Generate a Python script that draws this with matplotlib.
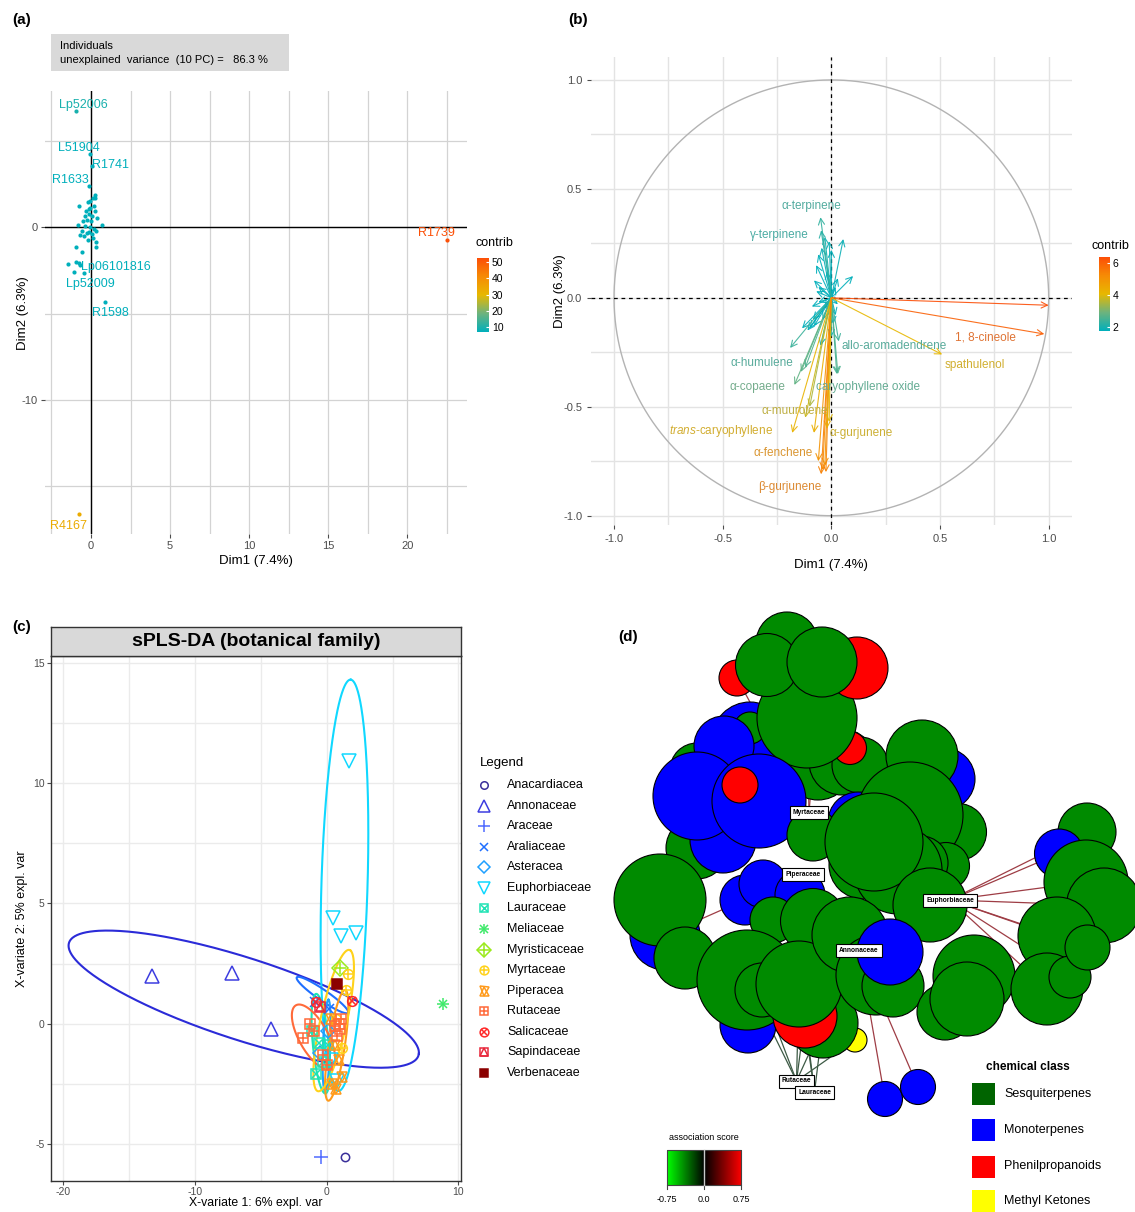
import numpy as np
import matplotlib
matplotlib.use("Agg")
import matplotlib.pyplot as plt
from matplotlib.colors import LinearSegmentedColormap, Normalize, to_rgb
from matplotlib.cm import ScalarMappable
from matplotlib.patches import Circle, Rectangle

plt.rcParams.update({
    "font.family": ["Liberation Sans", "DejaVu Sans"],
    "mathtext.fontset": "custom",
    "mathtext.it": "Liberation Sans:italic",
    "mathtext.rm": "Liberation Sans",
    "axes.unicode_minus": False,
})

W, H = 1135, 1212

# ---------------- (a) PCA individuals ----------------
clus_x = [0.23, 0.13, -0.04, -0.21, -0.78, 0.17, -0.08, 0.27, -0.29, -0.15,
          0.06, -0.51, -0.25, 0.00, 0.69, -0.84, -0.36, -0.08, 0.21, -0.57,
          -0.15, -0.67, -0.46, 0.34, 0.06, -0.21, 0.34, 0.34, -0.93, -0.57,
          -1.45, -0.93, -0.67, -1.09, -0.36, 0.27, -0.15, 0.38, -0.25, 0.13]
clus_y = [1.89, 1.68, 1.54, 1.47, 1.22, 1.20, 1.12, 0.95, 0.91, 0.74,
          0.63, 0.38, 0.42, 0.36, 0.15, 0.11, 0.06, 0.00, -0.11, -0.21,
          -0.27, -0.48, -0.53, -0.21, -0.42, -0.74, -0.84, -1.12, -1.12, -1.41,
          -2.11, -2.00, -2.17, -2.59, 0.63, 1.68, 1.05, 0.53, -0.32, -0.63]
ind_names = ["Lp52006", "L51904", "R1741", "R1633", "Lp06101816", "Lp52009",
             "R1598", "R1739", "R4167"]
ind_x = [-0.93, -0.08, 0.06, -0.15, -0.74, -0.42, 0.86, 22.48, -0.78]
ind_y = [6.74, 4.25, 3.54, 2.38, -2.10, -2.63, -4.36, -0.74, -16.59]
ind_contrib = [9.5, 6.0, 6.0, 5.0, 5.0, 5.0, 5.5, 52.0, 33.0]
ind_lab_x = [-0.46, -0.78, 1.22, -1.31, 1.54, -0.04, 1.22, 21.85, -1.41]
ind_lab_y = [7.05, 4.57, 3.58, 2.74, -2.32, -3.31, -4.99, -0.32, -17.31]

# ---------------- (b) variable loadings ----------------
var_names = ["1, 8-cineole", "", "spathulenol", "allo-aromadendrene", "α-terpinene",
             "γ-terpinene", "α-humulene", "α-copaene", "caryophyllene oxide",
             "α-muurolene", r"$\it{trans}$-caryophyllene", "α-gurjunene", "α-fenchene",
             "β-gurjunene"]
var_x = [0.98, 1.00, 0.51, 0.034, -0.05, -0.047, -0.19, -0.17, 0.03, -0.12, -0.18,
         -0.01, -0.06, -0.047]
var_y = [-0.166, -0.034, -0.26, -0.20, 0.37, 0.31, -0.23, -0.40, -0.35, -0.55, -0.62,
         -0.57, -0.75, -0.81]
var_contrib = [6.0, 6.35, 4.1, 2.4, 2.3, 2.2, 2.4, 2.8, 2.6, 3.8, 4.2, 4.0, 5.0, 5.4]
var_lab_x = [0.71, None, 0.66, 0.29, -0.09, -0.24, -0.32, -0.34, 0.17, -0.17, -0.51,
             0.135, -0.22, -0.19]
var_lab_y = [-0.18, None, -0.31, -0.22, 0.42, 0.29, -0.30, -0.41, -0.41, -0.52, -0.61,
             -0.62, -0.71, -0.87]
minor_x = [-0.04, -0.03, -0.025, -0.02, -0.08, -0.10, -0.14, -0.12, 0.055, 0.10, -0.01,
           -0.06, -0.045, -0.03, -0.07, -0.08, -0.09, -0.085, -0.135, -0.11, -0.08,
           -0.05, -0.04, 0.0, 0.025, 0.02, 0.03, -0.02, -0.06, 0.02, -0.03, 0.03, -0.10,
           0.0, -0.06, -0.07, 0.01]
minor_y = [-0.79, -0.77, -0.80, -0.60, -0.62, -0.50, -0.34, -0.32, 0.27, 0.10, 0.26,
           0.20, 0.23, 0.28, 0.15, 0.08, -0.04, -0.10, -0.14, -0.15, -0.13,
           -0.22, -0.10, -0.18, -0.35, 0.05, 0.09, 0.12, 0.05, -0.08, -0.05, -0.03, -0.14,
           0.22, -0.02, 0.03, -0.12]
minor_contrib = [5.2, 5.0, 5.3, 4.3, 4.3, 3.5, 2.7, 2.6, 1.9, 1.8, 1.9,
                 1.8, 1.9, 2.0, 1.7, 1.6, 1.6, 1.6, 1.8, 1.8, 1.7,
                 1.9, 1.5, 1.6, 2.5, 1.5, 1.5, 1.6, 1.5, 1.5, 1.5, 1.5, 1.7,
                 1.8, 1.5, 1.5, 1.6]

# ---------------- (c) sPLS-DA ----------------
families = ["Anacardiacea", "Annonaceae", "Araceae", "Araliaceae", "Asteracea",
            "Euphorbiaceae", "Lauraceae", "Meliaceae", "Myristicaceae", "Myrtaceae",
            "Piperacea", "Rutaceae", "Salicaceae", "Sapindaceae", "Verbenaceae"]
fam_colors = ["#3A2F9A", "#3D3DE0", "#4F6BFF", "#1F6FFF", "#1FA0FF", "#10D8FF",
              "#1EE3B4", "#3EEA6A", "#9AEA1A", "#FFD21A", "#FF9A1A", "#FF6A3A",
              "#FF2A2A", "#E8283C", "#8B0000"]
fam_pch = list(range(1, 16))
fam_x = {
    "Anacardiacea": [1.4], "Annonaceae": [-13.3, -7.2, -4.2], "Araceae": [-0.4],
    "Araliaceae": [-0.9, 0.2], "Asteracea": [-0.5, 0.1],
    "Euphorbiaceae": [1.7, 0.5, 1.1, 2.2, 0.8, 0.3],
    "Lauraceae": [-0.6, -1.1, -0.3, -0.8, 0.1], "Meliaceae": [8.8],
    "Myristicaceae": [1.0], "Myrtaceae": [1.6, 1.5, 0.7, 1.2],
    "Piperacea": [0.4, 0.9, 0.6, 1.2, 0.3, 0.7],
    "Rutaceae": [-1.3, -1.0, -1.8, 0.9, 1.0, 1.1, 0.6, -0.3, 0.0, 0.8],
    "Salicaceae": [1.9, -0.8], "Sapindaceae": [-0.5], "Verbenaceae": [0.8],
}
fam_y = {
    "Anacardiacea": [-5.55], "Annonaceae": [2.0, 2.1, -0.2], "Araceae": [-5.55],
    "Araliaceae": [0.9, 0.6], "Asteracea": [-1.2, -0.3],
    "Euphorbiaceae": [10.9, 4.4, 3.65, 3.75, -2.4, -1.5],
    "Lauraceae": [-0.8, -0.3, -1.6, -2.1, -0.9], "Meliaceae": [0.8],
    "Myristicaceae": [2.3], "Myrtaceae": [2.07, 1.4, 0.2, -1.0],
    "Piperacea": [-2.5, -1.5, -0.9, -2.2, 0.2, -2.7],
    "Rutaceae": [0.0, -0.3, -0.6, 0.0, -0.2, 0.2, -0.1, -1.3, -1.7, -0.5],
    "Salicaceae": [0.95, 0.9], "Sapindaceae": [0.7], "Verbenaceae": [1.64],
}
ell_family = ["Annonaceae", "Euphorbiaceae", "Araliaceae", "Asteracea", "Lauraceae",
              "Rutaceae", "Piperacea", "Myrtaceae"]
ell_cx = [-6.3, 1.35, -0.32, 0.0, -0.45, -1.0, 0.76, 0.53]
ell_cy = [1.02, 5.75, 1.19, -0.9, -0.83, -0.55, -0.9, 0.13]
ell_a = [13.49, 8.56, 2.09, 1.9, 2.1, 1.95, 2.39, 3.18]
ell_b = [1.76, 1.75, 0.25, 0.28, 0.6, 0.85, 0.6, 0.95]
ell_angle = [-9.65, 86.8, -20.2, 86.0, -79.7, -36.6, 73.7, 66.4]

# ---------------- (d) association network ----------------
# node layout (pixel units of the network canvas), radius and chemical class
node_x = [787, 750, 750, 818, 842, 860, 850, 807, 737, 857, 767, 822,
          697, 697, 723, 724, 697, 759, 740,
          858, 813, 863, 944, 922, 958, 910, 946, 921, 898, 874, 930,
          665, 660, 685, 745, 763, 800, 773, 813, 748, 747, 762, 855, 823, 805, 799,
          850, 876, 893, 890,
          945, 974, 967,
          1087, 1059, 1086, 1104, 1057, 1047, 1070, 1087.5, 885, 918]
node_y = [643, 740, 728, 765, 762, 765, 748, 718, 678, 668, 665, 662,
          770, 848, 840, 746, 796, 801, 785,
          822, 835, 865, 779, 756, 832, 815, 866, 863, 870, 842, 905,
          935, 900, 958, 900, 884, 895, 920, 921, 1025, 980, 990, 1040, 1023, 1016, 984,
          935, 975, 986, 952,
          1012, 976, 999,
          832, 853.5, 882, 905.5, 936, 989, 977, 947.5, 1099, 1087]
node_r = [31, 38, 16, 35, 33, 28, 16.5, 50, 18, 31, 31.5, 35,
          27, 31, 33, 30, 44, 47, 18,
          30, 26, 34, 31, 36, 28.5, 53, 23.5, 27, 44, 49, 37,
          35, 46, 31, 25, 24, 25, 23, 32.5, 28, 50, 27, 12, 35, 32, 43,
          38, 40, 31, 33,
          28, 41, 37,
          29, 24.5, 42, 37.5, 39, 36, 21, 22.5, 17.5, 17.5]
node_cls = ["S", "M", "S", "S", "S", "S", "P", "S", "P", "P", "S", "S",
            "S", "S", "M", "M", "M", "M", "P",
            "M", "S", "S", "M", "S", "S", "S", "S", "S", "S", "S", "S",
            "M", "S", "S", "M", "M", "M", "S", "S", "M", "S", "S", "K", "S", "P", "S",
            "S", "S", "S", "M",
            "S", "S", "S",
            "S", "M", "S", "S", "S", "S", "S", "S", "M", "M"]
fam_nodes = ["Myrtaceae", "Piperaceae", "Euphorbiaceae", "Annonaceae", "Rutaceae", "Lauraceae"]
fam_node_x = [809, 803, 950, 859, 796.5, 814.5]
fam_node_y = [812, 874, 900, 950, 1081, 1092]
edges = [("Euphorbiaceae", i, 0.4) for i in (53, 54, 55, 56, 57, 58, 59, 60)] + \
        [("Annonaceae", 61, 0.4), ("Annonaceae", 62, 0.4),
         ("Myrtaceae", 8, 0.35), ("Myrtaceae", 7, 0.3), ("Myrtaceae", 11, 0.3),
         ("Piperaceae", 31, 0.3)] + \
        [("Rutaceae", i, -0.35) for i in (42, 43, 44, 45, 40, 41)] + \
        [("Lauraceae", i, -0.35) for i in (43, 44, 45)]
class_names = ["Sesquiterpenes", "Monoterpenes", "Phenilpropanoids", "Methyl Ketones"]
class_fill = {"S": "#008B00", "M": "#0000FF", "P": "#FF0000", "K": "#FFFF00"}
class_legend = ["#006400", "#0000FF", "#FF0000", "#FFFF00"]


def box(x0, y0, x1, y1):
    return [x0 / W, 1 - y1 / H, (x1 - x0) / W, (y1 - y0) / H]


def fx(x):
    return x / W


def fy(y):
    return 1 - y / H


def soften(c, k=0.3):
    r, g, b = to_rgb(c)
    grey = 0.62
    return (r + (grey - r) * k, g + (grey - g) * k, b + (grey - b) * k)


cmap_contrib = LinearSegmentedColormap.from_list(
    "contrib", ["#00AFBB", "#6DB37D", "#E7B800", "#F68B05", "#FC4E07"])

PCH_SIZE = {1: 6, 2: 10, 3: 10, 4: 7, 5: 7, 6: 10, 7: 7, 8: 8, 9: 8, 10: 7,
            11: 8, 12: 7, 13: 7, 14: 7, 15: 7}


def draw_pch(ax, xs, ys, code, color, scale=1.0, zorder=3):
    s = PCH_SIZE[code] * scale
    base = dict(linestyle="none", color=color, markeredgecolor=color,
                markeredgewidth=1.1, zorder=zorder)

    def put(m, size=s, filled=False):
        ax.plot(xs, ys, m, markersize=size,
                markerfacecolor=color if filled else "none", **base)

    if code == 1:
        put("o")
    elif code == 2:
        put("^")
    elif code == 3:
        put("+")
    elif code == 4:
        put("x")
    elif code == 5:
        put("D")
    elif code == 6:
        put("v")
    elif code == 7:
        put("s"); put("x", s * 0.8)
    elif code == 8:
        put("+"); put("x", s * 0.75)
    elif code == 9:
        put("D"); put("+", s * 1.1)
    elif code == 10:
        put("o"); put("+", s)
    elif code == 11:
        put("^", s * 0.9); put("v", s * 0.9)
    elif code == 12:
        put("s"); put("+", s)
    elif code == 13:
        put("o"); put("x", s * 0.75)
    elif code == 14:
        put("s"); put("^", s * 0.85)
    elif code == 15:
        put("s", filled=True)


def place_labels(ax, xlab_y, ylab_x):
    ax.xaxis.set_label_coords(0.5, xlab_y)
    ax.xaxis.label.set_va("center")
    ax.yaxis.set_label_coords(ylab_x, 0.5)
    ax.yaxis.label.set_va("center")


fig = plt.figure(figsize=(W / 100, H / 100), dpi=100)
fig.patch.set_facecolor("white")

for lab, (x, y) in zip(["(a)", "(b)", "(c)", "(d)"],
                       [(22, 20), (578, 20), (22, 627), (628, 637)]):
    fig.text(fx(x), fy(y), lab, ha="center", va="center", fontsize=11, fontweight="bold")

# ---- (a)
ax = fig.add_axes(box(45, 90.9, 466.7, 534.4))
ax.set_xlim(-2.91, 23.75)
ax.set_ylim(-17.79, 7.89)
for s in ax.spines.values():
    s.set_visible(False)
ax.set_xticks([0, 5, 10, 15, 20])
ax.set_xticks(np.arange(-2.5, 23, 5), minor=True)
ax.set_yticks([-10, 0])
ax.set_yticks([-15, -5, 5], minor=True)
ax.grid(True, which="both", color="#D3D3D3", lw=0.9)
ax.set_axisbelow(True)
ax.tick_params(which="minor", length=0)
ax.tick_params(which="major", length=3, color="#4D4D4D", labelsize=8, labelcolor="#4D4D4D", pad=2)
ax.axhline(0, color="black", lw=1.0)
ax.axvline(0, color="black", lw=1.0)
norm_a = Normalize(6.9, 52.5, clip=True)
ax.scatter(clus_x, clus_y, s=9, color=cmap_contrib(norm_a(1.0)), zorder=3, linewidths=0)
for n, x, y, c, lx, ly in zip(ind_names, ind_x, ind_y, ind_contrib, ind_lab_x, ind_lab_y):
    col = cmap_contrib(norm_a(c))
    ax.scatter([x], [y], s=9, color=col, zorder=3, linewidths=0)
    ax.text(lx, ly, n, color=col, fontsize=9, ha="center", va="center", zorder=4)
ax.set_xlabel("Dim1 (7.4%)", fontsize=9.5)
ax.set_ylabel("Dim2 (6.3%)", fontsize=9.5)
place_labels(ax, -0.06, -0.053)
fig.add_artist(Rectangle((fx(50.7), fy(70.9)), (288.7 - 50.7) / W, (70.9 - 34.5) / H,
                         transform=fig.transFigure, facecolor="#D9D9D9", edgecolor="none"))
fig.text(fx(60), fy(46), "Individuals", fontsize=8, va="center")
fig.text(fx(60), fy(60), "unexplained  variance  (10 PC) =   86.3 %", fontsize=8, va="center")
cax = fig.add_axes(box(477, 258, 489, 332))
cb = fig.colorbar(ScalarMappable(norm=norm_a, cmap=cmap_contrib), cax=cax, ticks=[10, 20, 30, 40, 50])
cb.outline.set_visible(False)
cax.tick_params(labelsize=7.5, length=2.5, color="white", direction="in", pad=2)
fig.text(fx(494), fy(243), "contrib", fontsize=9, ha="center", va="center")

# ---- (b)
ax = fig.add_axes(box(591.2, 57.3, 1071.5, 525.3))
ax.set_xlim(-1.105, 1.105)
ax.set_ylim(-1.044, 1.104)
for s in ax.spines.values():
    s.set_visible(False)
ticks = [-1.0, -0.5, 0.0, 0.5, 1.0]
ax.set_xticks(ticks, [f"{t:.1f}" for t in ticks])
ax.set_yticks(ticks, [f"{t:.1f}" for t in ticks])
ax.set_xticks([-0.75, -0.25, 0.25, 0.75], minor=True)
ax.set_yticks([-0.75, -0.25, 0.25, 0.75], minor=True)
ax.grid(True, which="both", color="#E3E3E3", lw=1.0)
ax.set_axisbelow(True)
ax.tick_params(which="minor", length=0)
ax.tick_params(which="major", length=3, color="#4D4D4D", labelsize=8, labelcolor="#4D4D4D")
t = np.linspace(0, 2 * np.pi, 400)
ax.plot(np.cos(t), np.sin(t), color="#B3B3B3", lw=1.0)
ax.axhline(0, color="black", lw=0.9, ls=(0, (3, 3)))
ax.axvline(0, color="black", lw=0.9, ls=(0, (3, 3)))
norm_b = Normalize(1.78, 6.35, clip=True)
for x, y, c in zip(minor_x + var_x, minor_y + var_y, minor_contrib + var_contrib):
    ax.annotate("", xy=(x, y), xytext=(0, 0),
                arrowprops=dict(arrowstyle="->,head_length=0.45,head_width=0.22",
                                color=cmap_contrib(norm_b(c)), lw=0.8, alpha=0.9,
                                shrinkA=0, shrinkB=0))
for n, c, lx, ly in zip(var_names, var_contrib, var_lab_x, var_lab_y):
    if n:
        ax.text(lx, ly, n, color=soften(cmap_contrib(norm_b(c))), fontsize=8.5,
                ha="center", va="center")
ax.set_xlabel("Dim1 (7.4%)", fontsize=9.5)
ax.set_ylabel("Dim2 (6.3%)", fontsize=9.5)
place_labels(ax, -0.085, -0.065)
cax = fig.add_axes(box(1099, 257, 1110, 331))
cb = fig.colorbar(ScalarMappable(norm=norm_b, cmap=cmap_contrib), cax=cax, ticks=[2, 4, 6])
cb.outline.set_visible(False)
cax.tick_params(labelsize=7.5, length=2.5, color="white", direction="in", pad=2)
fig.text(fx(1110), fy(246), "contrib", fontsize=9, ha="center", va="center")

# ---- (c)
ax = fig.add_axes(box(50.7, 656, 461, 1180.6))
ax.set_xlim(-20.96, 10.2)
ax.set_ylim(-6.52, 15.28)
ax.set_xticks([-20, -10, 0, 10])
ax.set_xticks([-15, -5, 5], minor=True)
ax.set_yticks([-5, 0, 5, 10, 15])
ax.set_yticks([-2.5, 2.5, 7.5, 12.5], minor=True)
ax.grid(True, which="both", color="#EBEBEB", lw=1.0)
ax.set_axisbelow(True)
ax.tick_params(which="minor", length=0)
ax.tick_params(which="major", length=3, color="#4D4D4D", labelsize=7.5, labelcolor="#4D4D4D", pad=1.5)
for s in ax.spines.values():
    s.set_color("#333333")
    s.set_linewidth(1.0)
for fam, col, code in zip(families, fam_colors, fam_pch):
    draw_pch(ax, fam_x[fam], fam_y[fam], code, col)
for fam, cx, cy, a, b, ang in zip(ell_family, ell_cx, ell_cy, ell_a, ell_b, ell_angle):
    th = np.deg2rad(ang)
    ex = cx + a * np.cos(t) * np.cos(th) - b * np.sin(t) * np.sin(th)
    ey = cy + a * np.cos(t) * np.sin(th) + b * np.sin(t) * np.cos(th)
    col = "#2B2BD8" if fam == "Annonaceae" else fam_colors[families.index(fam)]
    ax.plot(ex, ey, color=col, lw=1.5, zorder=2)
ax.set_xlabel("X-variate 1: 6% expl. var", fontsize=8.8)
ax.set_ylabel("X-variate 2: 5% expl. var", fontsize=9)
place_labels(ax, -0.0435, -0.07)
sax = fig.add_axes(box(50.7, 627.2, 461, 656))
sax.set_facecolor("#D9D9D9")
sax.set_xticks([])
sax.set_yticks([])
for s in sax.spines.values():
    s.set_color("#333333")
    s.set_linewidth(1.0)
sax.text(0.5, 0.5, "sPLS-DA (botanical family)", transform=sax.transAxes, ha="center",
         va="center", fontsize=14, fontweight="bold")

lax = fig.add_axes(box(470, 740, 610, 1090))
lax.set_xlim(470, 610)
lax.set_ylim(1090, 740)
lax.axis("off")
lax.text(480, 763, "Legend", fontsize=9.5, va="center")
for i, (fam, col, code) in enumerate(zip(families, fam_colors, fam_pch)):
    yy = 785 + i * 20.57
    draw_pch(lax, [484], [yy], code, col, scale=0.9)
    lax.text(507, yy, fam, fontsize=9, va="center")

# ---- (d)
ax = fig.add_axes(box(600, 600, 1135, 1212))
ax.set_xlim(600, 1135)
ax.set_ylim(1212, 600)
ax.axis("off")
for fam, idx, score in edges:
    k = fam_nodes.index(fam)
    ax.plot([fam_node_x[k], node_x[idx]], [fam_node_y[k], node_y[idx]],
            color="#9E3D45" if score > 0 else "#3D5A45", lw=0.9, zorder=1)
for i, (x, y, r, c) in enumerate(zip(node_x, node_y, node_r, node_cls)):
    ax.add_patch(Circle((x, y), r, facecolor=class_fill[c], edgecolor="black",
                        lw=0.8, zorder=2 + i * 0.01))
for n, x, y in zip(fam_nodes, fam_node_x, fam_node_y):
    ax.text(x, y, n, fontsize=4.8, fontweight="bold", ha="center", va="center", zorder=10,
            bbox=dict(boxstyle="square,pad=0.45", fc="white", ec="black", lw=0.8))
ax.text(1028, 1067, "chemical class", fontsize=8.5, fontweight="bold", ha="center", va="center")
for i, (nm, col) in enumerate(zip(class_names, class_legend)):
    yy = [1094, 1129.5, 1166.5, 1201][i]
    ax.add_patch(Rectangle((972, yy - 11), 23, 22, facecolor=col, edgecolor="none"))
    ax.text(1004, yy, nm, fontsize=9, va="center")
grad = np.zeros((2, 200, 3))
v = np.linspace(-1, 1, 200)
grad[:, :, 0] = np.clip(v, 0, 1)
grad[:, :, 1] = np.clip(-v, 0, 1)
ax.imshow(grad, extent=[666.7, 741, 1185, 1150], aspect="auto", zorder=3)
ax.add_patch(Rectangle((666.7, 1150), 741 - 666.7, 35, fill=False, ec="#444444", lw=0.8, zorder=4))
ax.plot([703.8, 703.8], [1150, 1185], color="#C8C8C8", lw=1.0, zorder=4)
for xv, lab in zip([666.7, 703.8, 741], ["-0.75", "0.0", "0.75"]):
    ax.plot([xv, xv], [1185, 1189], color="#444444", lw=0.8)
    ax.text(xv, 1199, lab, fontsize=6.5, ha="center", va="center")
ax.text(704, 1137.5, "association score", fontsize=6.5, ha="center", va="center")
ax.set_xlim(600, 1135)
ax.set_ylim(1212, 600)

fig.savefig("out.png", dpi=100)
